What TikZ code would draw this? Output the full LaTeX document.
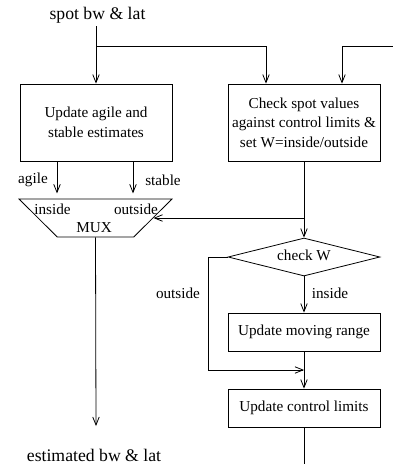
\documentclass[tikz,border=0pt]{standalone}
\usepackage{fontspec}
\setmainfont{Liberation Serif}
\usetikzlibrary{positioning,shapes.geometric,arrows.meta}
\tikzstyle{flowchart} = [x = 1pt, y = -1pt, font=\fontsize{15.2}{19.5}\selectfont, line width=.8pt]
\tikzstyle{boxStyle} = [draw, rectangle, minimum width=152pt, align=center, inner sep=0pt]
\tikzstyle{tallBox} = [boxStyle, minimum height=77pt]
\tikzstyle{flatBox} = [boxStyle, minimum height=38pt]
\tikzstyle{muxStyle} = [draw, trapezium, trapezium stretches=true, trapezium left angle=63.4, trapezium right angle=63.4, shape border rotate=180, minimum width=153pt, minimum height=38pt, inner sep=2pt]
\tikzstyle{decisionStyle} = [draw, diamond, minimum width=152pt, minimum height=38pt, inner sep=0pt]
\tikzstyle{flowArrow} = [-{Straight Barb[length=8pt, width=6.5pt]}]
\tikzstyle{flowText} = [inner sep=1pt]
\tikzstyle{ioText} = [inner sep=1pt, font=\fontsize{17.7}{21}\selectfont]
\newcommand{\flowLabel}[3]{\node [flowText] (#1) at (#2) {#3};}

\begin{document}
\begin{tikzpicture}[flowchart]
  \useasboundingbox (0,0) rectangle (393,464);

  % input and output texts
  \node [ioText] (spotIn) at (97.5,15) {spot bw \& lat};
  \node [ioText] (estimatedOut) at (94,455) {estimated bw \& lat};

  % boxes
  \node [tallBox] (agileBox) at (96,122.5) {Update agile and\\stable estimates};
  \node [tallBox] (checkBox) at (304,122.5) {Check spot values\\against control limits \&\\set W=inside/outside};
  \node [muxStyle] (mux) at (95.5,218) {};
  \node [decisionStyle] (checkW) at (304,257) {};
  \node [flatBox] (rangeBox) at (304,332) {Update moving range};
  \node [flatBox] (limitsBox) at (304,408) {Update control limits};

  % texts in shapes and on connectors
  \flowLabel{muxText}{94,228}{MUX}
  \flowLabel{muxInside}{52.5,209}{inside}
  \flowLabel{muxOutside}{136,209}{outside}
  \flowLabel{checkText}{304,255}{check W}
  \flowLabel{agileText}{33,180}{agile}
  \flowLabel{stableText}{163,180}{stable}
  \flowLabel{outsideText}{178,293}{outside}
  \flowLabel{insideText}{330,293}{inside}

  % free ends
  \coordinate (fork) at (96,46);
  \coordinate (loopIn) at (393,46);
  \coordinate (muxFork) at (304,218);
  \coordinate (joinPt) at (304,370);
  \coordinate (loopOut) at (304,464);
  \coordinate (muxOut) at (96,426);

  % connectors
  \draw [flowArrow] ([yshift=-2pt]spotIn.south -| agileBox.north) -- (agileBox.north);
  \draw [flowArrow] (fork) -| ([xshift=-38pt]checkBox.north);
  \draw [flowArrow] (loopIn) -| ([xshift=38pt]checkBox.north);
  \draw [flowArrow] ([xshift=-39pt]agileBox.south) -- ++(0,32);
  \draw [flowArrow] ([xshift=37pt]agileBox.south) -- ++(0,32);
  \draw [flowArrow] (checkBox.south) -- (checkW.north);
  \draw [flowArrow] (muxFork) -- (mux.east);
  \draw [flowArrow] (checkW.south) -- (rangeBox.north);
  \draw [flowArrow] (checkW.west) -- ++(-19,0) |- (joinPt);
  \draw [flowArrow] (rangeBox.south) -- (limitsBox.north);
  \draw (limitsBox.south) -- (loopOut);
  \draw [flowArrow] (mux.south) -- (muxOut);
\end{tikzpicture}
\end{document}
